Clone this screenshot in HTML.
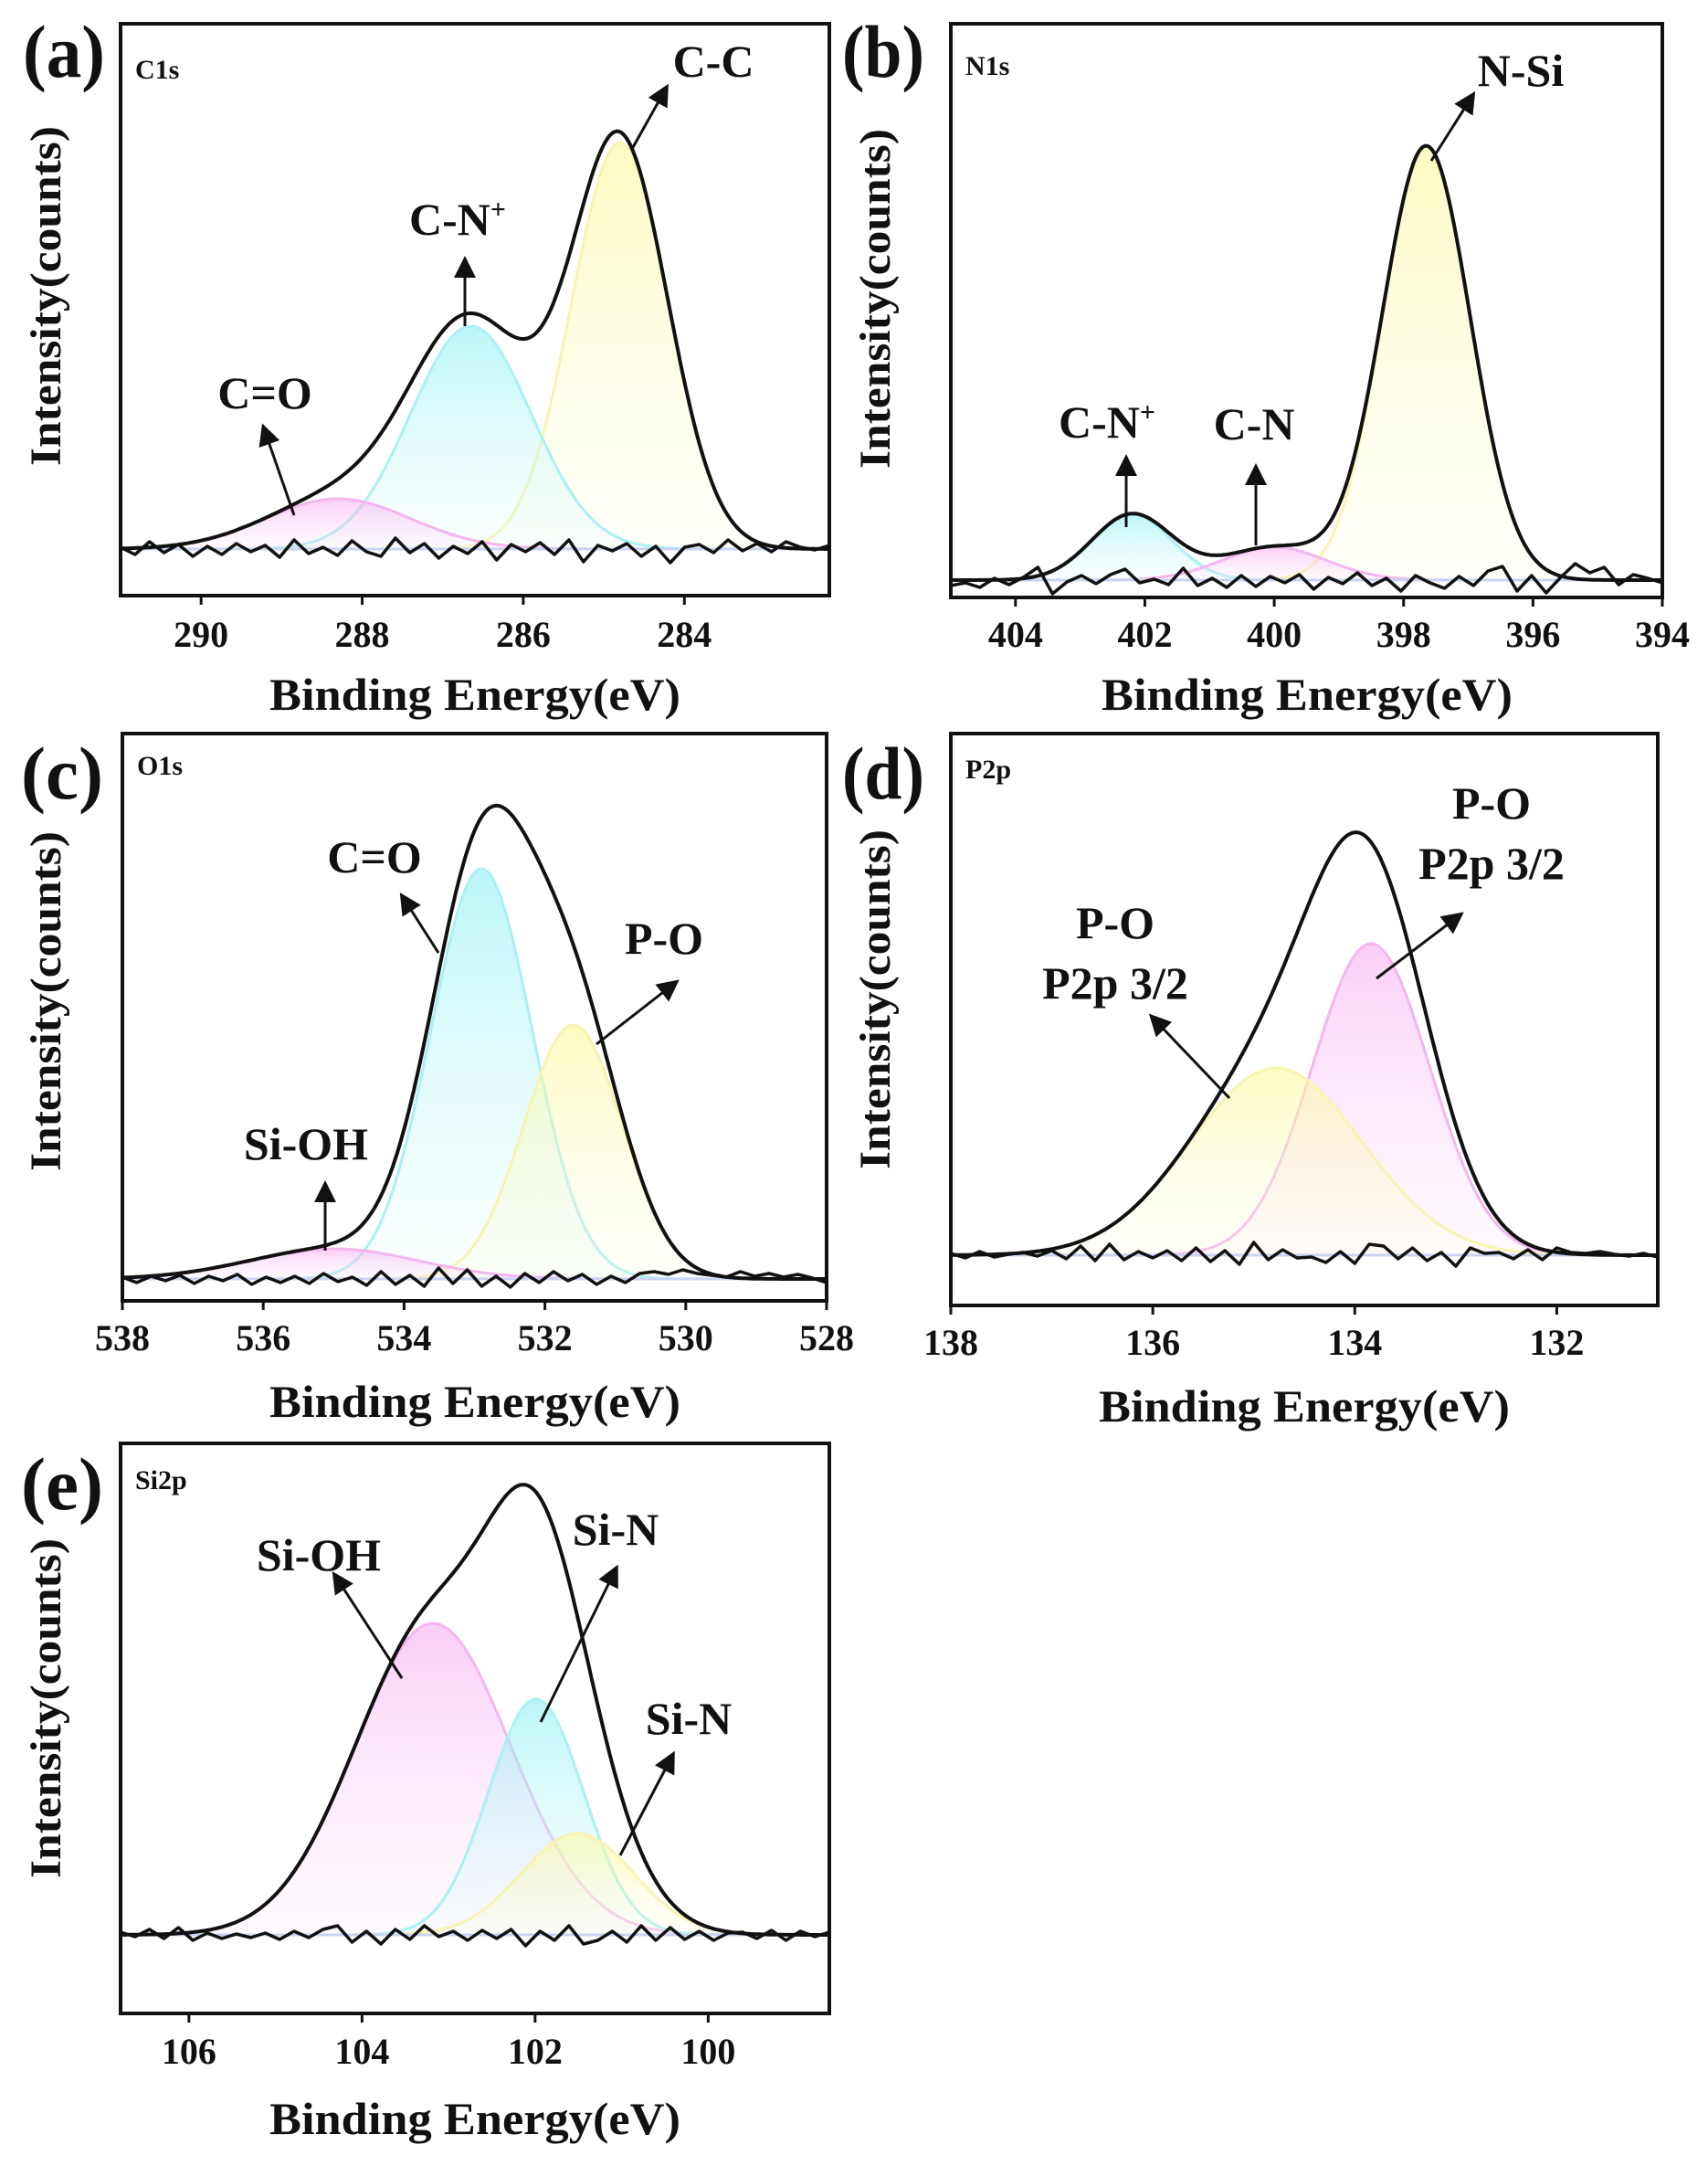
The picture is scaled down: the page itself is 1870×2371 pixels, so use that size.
<!DOCTYPE html>
<html><head><meta charset="utf-8"><style>
html,body{margin:0;padding:0;background:#fff;}
svg{display:block;}
text{font-family:"Liberation Serif",serif;font-weight:bold;fill:#111;}
</style></head><body>
<svg id="fig" width="1870" height="2371" viewBox="0 0 1870 2371" xmlns="http://www.w3.org/2000/svg">
<defs>
<linearGradient id="gy" x1="0" y1="0" x2="0" y2="1"><stop offset="0" stop-color="#fbf99a" stop-opacity="0.6"/><stop offset="1" stop-color="#fdfce0" stop-opacity="0.2"/></linearGradient>
<linearGradient id="gc" x1="0" y1="0" x2="0" y2="1"><stop offset="0" stop-color="#8ef0f4" stop-opacity="0.6"/><stop offset="1" stop-color="#e4fbfc" stop-opacity="0.2"/></linearGradient>
<linearGradient id="gp" x1="0" y1="0" x2="0" y2="1"><stop offset="0" stop-color="#f7a6f2" stop-opacity="0.55"/><stop offset="1" stop-color="#fde6fb" stop-opacity="0.2"/></linearGradient>
<marker id="ah" markerWidth="8" markerHeight="8" refX="6" refY="4" orient="auto" markerUnits="strokeWidth"><path d="M0,0 L8,4 L0,8 Z" fill="#111"/></marker>
</defs>
</svg>
<script>
// ---- Panel (a) C1s ----
const aCenters=[284.8,286.65,288.3];
const aHeights=[445,244,55];
const aSigmas=[0.6,0.75,0.9];
const aColors=['y','c','p'];
const aTicks=[290,288,286,284];
const aNoise=[2,-6,8,-4,5,-8,3,-6,6,-3,4,-9,10,-5,2,-7,9,-3,-8,12,-4,6,-10,3,-5,8,-12,5,-3,7,-6,10,-14,4,-2,6,-8,3,-15,2,5,-4,10,-2,6,-3,8,2,-1,4];
// ---- Panel (b) N1s ----
const bCenters=[397.65,402.2,400.0];
const bHeights=[475,72,36];
const bSigmas=[0.68,0.62,0.8];
const bColors=['y','c','p'];
const bTicks=[404,402,400,398,396,394];
const bNoise=[-6,-3,-8,2,-5,3,14,-15,-2,5,-4,6,12,-3,1,-5,13,-6,2,-8,5,-7,4,-3,6,-10,3,-4,8,-6,2,-12,5,-3,-9,4,-6,10,15,-12,5,-14,3,18,8,14,-5,6,2,-3];
// ---- Panel (c) O1s ----
const cCenters=[532.9,531.6,535.0];
const cHeights=[449,278,33];
const cSigmas=[0.72,0.7,1.2];
const cColors=['c','y','p'];
const cTicks=[538,536,534,532,530,528];
const cNoise=[2,-4,3,-2,4,-5,3,-2,5,-6,2,-4,3,-5,6,-3,2,-7,8,-6,4,-8,12,-5,10,-8,3,-9,6,-4,8,-2,5,-6,3,-4,6,8,5,10,6,4,2,8,3,6,2,5,1,-4];
// ---- Panel (d) P2p ----
const dCenters=[133.84,134.78];
const dHeights=[341,205];
const dSigmas=[0.58,0.85];
const dColors=['p','y'];
const dTicks=[138,136,134,132];
const dNoise=[2,-3,4,-2,1,3,-1,5,-4,10,-6,12,-5,4,-3,5,-6,8,-7,5,-10,14,-5,6,-3,-2,-8,4,-9,12,10,-4,8,-6,3,-12,8,2,3,-4,6,-5,8,3,2,4,1,-1,2,-2];
// ---- Panel (e) Si2p ----
const eCenters=[103.18,101.99,101.51];
const eHeights=[341,258,111];
const eSigmas=[0.9,0.55,0.65];
const eColors=['p','c','y'];
const eTicks=[106,104,102,100];
const eNoise=[3,-2,6,-4,8,-6,2,-4,1,-3,2,-5,4,-3,6,10,-8,4,-10,6,-5,10,-2,4,-6,5,-4,6,-12,4,-6,10,-10,-6,4,-8,10,-6,8,-5,4,-6,2,3,-4,5,-6,4,-2,3];

const SVGNS='http://www.w3.org/2000/svg';
const fig=document.getElementById('fig');
function mk(tag,attrs,parent){const e=document.createElementNS(SVGNS,tag);for(const k in attrs)e.setAttribute(k,attrs[k]);(parent||fig).appendChild(e);return e;}
const fillOf={y:'url(#gy)',c:'url(#gc)',p:'url(#gp)'};
const strokeOf={y:'#f8f4b0',c:'#aaf0f4',p:'#f4b6f0'};

function panel(cfg){
  const g=mk('g',{});
  
  
  const X=v=>cfg.L+(cfg.x0-v)/(cfg.x0-cfg.x1)*(cfg.R-cfg.L);
  const Y=v=>cfg.base-v;
  const gauss=(x,i)=>cfg.heights[i]*Math.exp(-Math.pow(x-cfg.centers[i],2)/(2*cfg.sigmas[i]*cfg.sigmas[i]));
  const N=300;
  const cp=mk('clipPath',{id:'clip'+cfg.id},g);
  mk('rect',{x:cfg.L,y:cfg.T,width:cfg.R-cfg.L,height:cfg.B-cfg.T},cp);
  const inner=mk('g',{'clip-path':'url(#clip'+cfg.id+')'},g);
  cfg.centers.forEach((c,i)=>{
    let d='';
    for(let k=0;k<=N;k++){const x=cfg.x0+(cfg.x1-cfg.x0)*k/N;d+=(k?'L':'M')+X(x).toFixed(1)+','+Y(gauss(x,i)).toFixed(1);}
    const area=mk('path',{d:d+'L'+X(cfg.x1)+','+cfg.base+'L'+X(cfg.x0)+','+cfg.base+'Z',fill:fillOf[cfg.colors[i]],stroke:'none'},inner);
    
    
    const ln=mk('path',{d:d,fill:'none',stroke:strokeOf[cfg.colors[i]],'stroke-width':3},inner);
    
    
  });
  const bl=mk('line',{x1:cfg.L,x2:cfg.R,y1:cfg.base,y2:cfg.base,stroke:'#c8d4f0','stroke-width':3},inner);
  
  
  let nd='';
  cfg.noise.forEach((v,k)=>{const x=cfg.x0+(cfg.x1-cfg.x0)*k/(cfg.noise.length-1);nd+=(k?'L':'M')+X(x).toFixed(1)+','+Y(v).toFixed(1);});
  const nl=mk('path',{d:nd,fill:'none',stroke:'#111','stroke-width':3.5,'stroke-linejoin':'round'},inner);
  
  
  let ed='';
  for(let k=0;k<=N;k++){const x=cfg.x0+(cfg.x1-cfg.x0)*k/N;let s=0;cfg.centers.forEach((c,i)=>s+=gauss(x,i));ed+=(k?'L':'M')+X(x).toFixed(1)+','+Y(s).toFixed(1);}
  const el=mk('path',{d:ed,fill:'none',stroke:'#111','stroke-width':4},inner);
  
  
  const fr=mk('rect',{x:cfg.L,y:cfg.T,width:cfg.R-cfg.L,height:cfg.B-cfg.T,fill:'none',stroke:'#111','stroke-width':4},g);
  
  
  cfg.ticks.forEach(t=>{
    const tl=mk('line',{x1:X(t),x2:X(t),y1:cfg.B,y2:cfg.B+10,stroke:'#111','stroke-width':3},g);
    
    
    const tx=mk('text',{x:X(t),y:cfg.tickY,'font-size':40,'text-anchor':'middle',textLength:String(t).length*20,lengthAdjust:'spacingAndGlyphs'},g);
    tx.textContent=t;
    
    
  });
  const xl=mk('text',{x:cfg.xlx,y:cfg.xly,'font-size':50,'text-anchor':'middle',textLength:450,lengthAdjust:'spacingAndGlyphs'},g);
  xl.textContent='Binding Energy(eV)';
  
  
  const yl=mk('text',{x:0,y:0,'font-size':48,'text-anchor':'middle',textLength:372,lengthAdjust:'spacingAndGlyphs',transform:'translate('+(cfg.ylx+16)+','+cfg.yly+') rotate(-90)'},g);
  yl.textContent='Intensity(counts)';
  
  
  const pl=mk('text',{x:cfg.plx,y:cfg.ply,'font-size':82,textLength:90,lengthAdjust:'spacingAndGlyphs'},g);
  pl.textContent='('+cfg.id+')';
  
  
  const sl=mk('text',{x:cfg.L+16,y:cfg.sly,'font-size':30},g);
  sl.textContent=cfg.title;
  
  
  cfg.ann.forEach((a,i)=>{
    const ar=mk('line',{x1:a[0],y1:a[1],x2:a[2],y2:a[3],stroke:'#111','stroke-width':3,'marker-end':'url(#ah)'},g);
    
    
    a[4].forEach((ln,j)=>{
      const t=mk('text',{x:a[5],y:a[6]+j*66,'font-size':50,'text-anchor':'middle'},g);
      if(ln.endsWith('+')){t.textContent=ln.slice(0,-1);const s=mk('tspan',{'font-size':30,dy:-18},t);s.textContent='+';}
      else t.textContent=ln;
      
      
    });
  });
}

panel({id:'a',title:'C1s',centers:aCenters,heights:aHeights,sigmas:aSigmas,colors:aColors,ticks:aTicks,noise:aNoise,
  x0:291.0,x1:282.2,L:132,R:908,T:26,B:652,base:601,tickY:708,xlx:520,xly:777,ylx:50,yly:324,plx:25,ply:84,sly:86,
  ann:[[692,163,729,97,['C-C'],781,84],[509,357,509,286,['C-N+'],501,257],[322,564,289,469,['C=O'],290,447]]});
panel({id:'b',title:'N1s',centers:bCenters,heights:bHeights,sigmas:bSigmas,colors:bColors,ticks:bTicks,noise:bNoise,
  x0:405,x1:394,L:1041,R:1820,T:26,B:654,base:635,tickY:708,xlx:1431,xly:777,ylx:958,yly:327,plx:922,ply:84,sly:82,
  ann:[[1567,176,1612,105,['N-Si'],1665,94],[1233,577,1233,503,['C-N+'],1212,479],[1375,597,1375,513,['C-N'],1373,481]]});
panel({id:'c',title:'O1s',centers:cCenters,heights:cHeights,sigmas:cSigmas,colors:cColors,ticks:cTicks,noise:cNoise,
  x0:538,x1:528,L:134,R:905,T:803,B:1424,base:1400,tickY:1478,xlx:520,xly:1551,ylx:50,yly:1096,plx:23,ply:874,sly:848,
  ann:[[480,1043,441,982,['C=O'],410,955],[653,1143,739,1076,['P-O'],727,1044],[356,1369,356,1298,['Si-OH'],335,1269]]});
panel({id:'d',title:'P2p',centers:dCenters,heights:dHeights,sigmas:dSigmas,colors:dColors,ticks:dTicks,noise:dNoise,
  x0:138,x1:131,L:1041,R:1815,T:803,B:1429,base:1374,tickY:1483,xlx:1428,xly:1556,ylx:958,yly:1094,plx:922,ply:874,sly:852,
  ann:[[1507,1071,1598,1002,['P-O','P2p 3/2'],1633,896],[1346,1202,1262,1114,['P-O','P2p 3/2'],1221,1027]]});
panel({id:'e',title:'Si2p',centers:eCenters,heights:eHeights,sigmas:eSigmas,colors:eColors,ticks:eTicks,noise:eNoise,
  x0:106.79,x1:98.6,L:132,R:908,T:1580,B:2204,base:2118,tickY:2259,xlx:520,xly:2336,ylx:50,yly:1870,plx:23,ply:1652,sly:1630,
  ann:[[440,1837,367,1725,['Si-OH'],349,1719],[592,1885,674,1718,['Si-N'],674,1691],[679,2031,736,1922,['Si-N'],754,1898]]});
</script>
</body></html>
